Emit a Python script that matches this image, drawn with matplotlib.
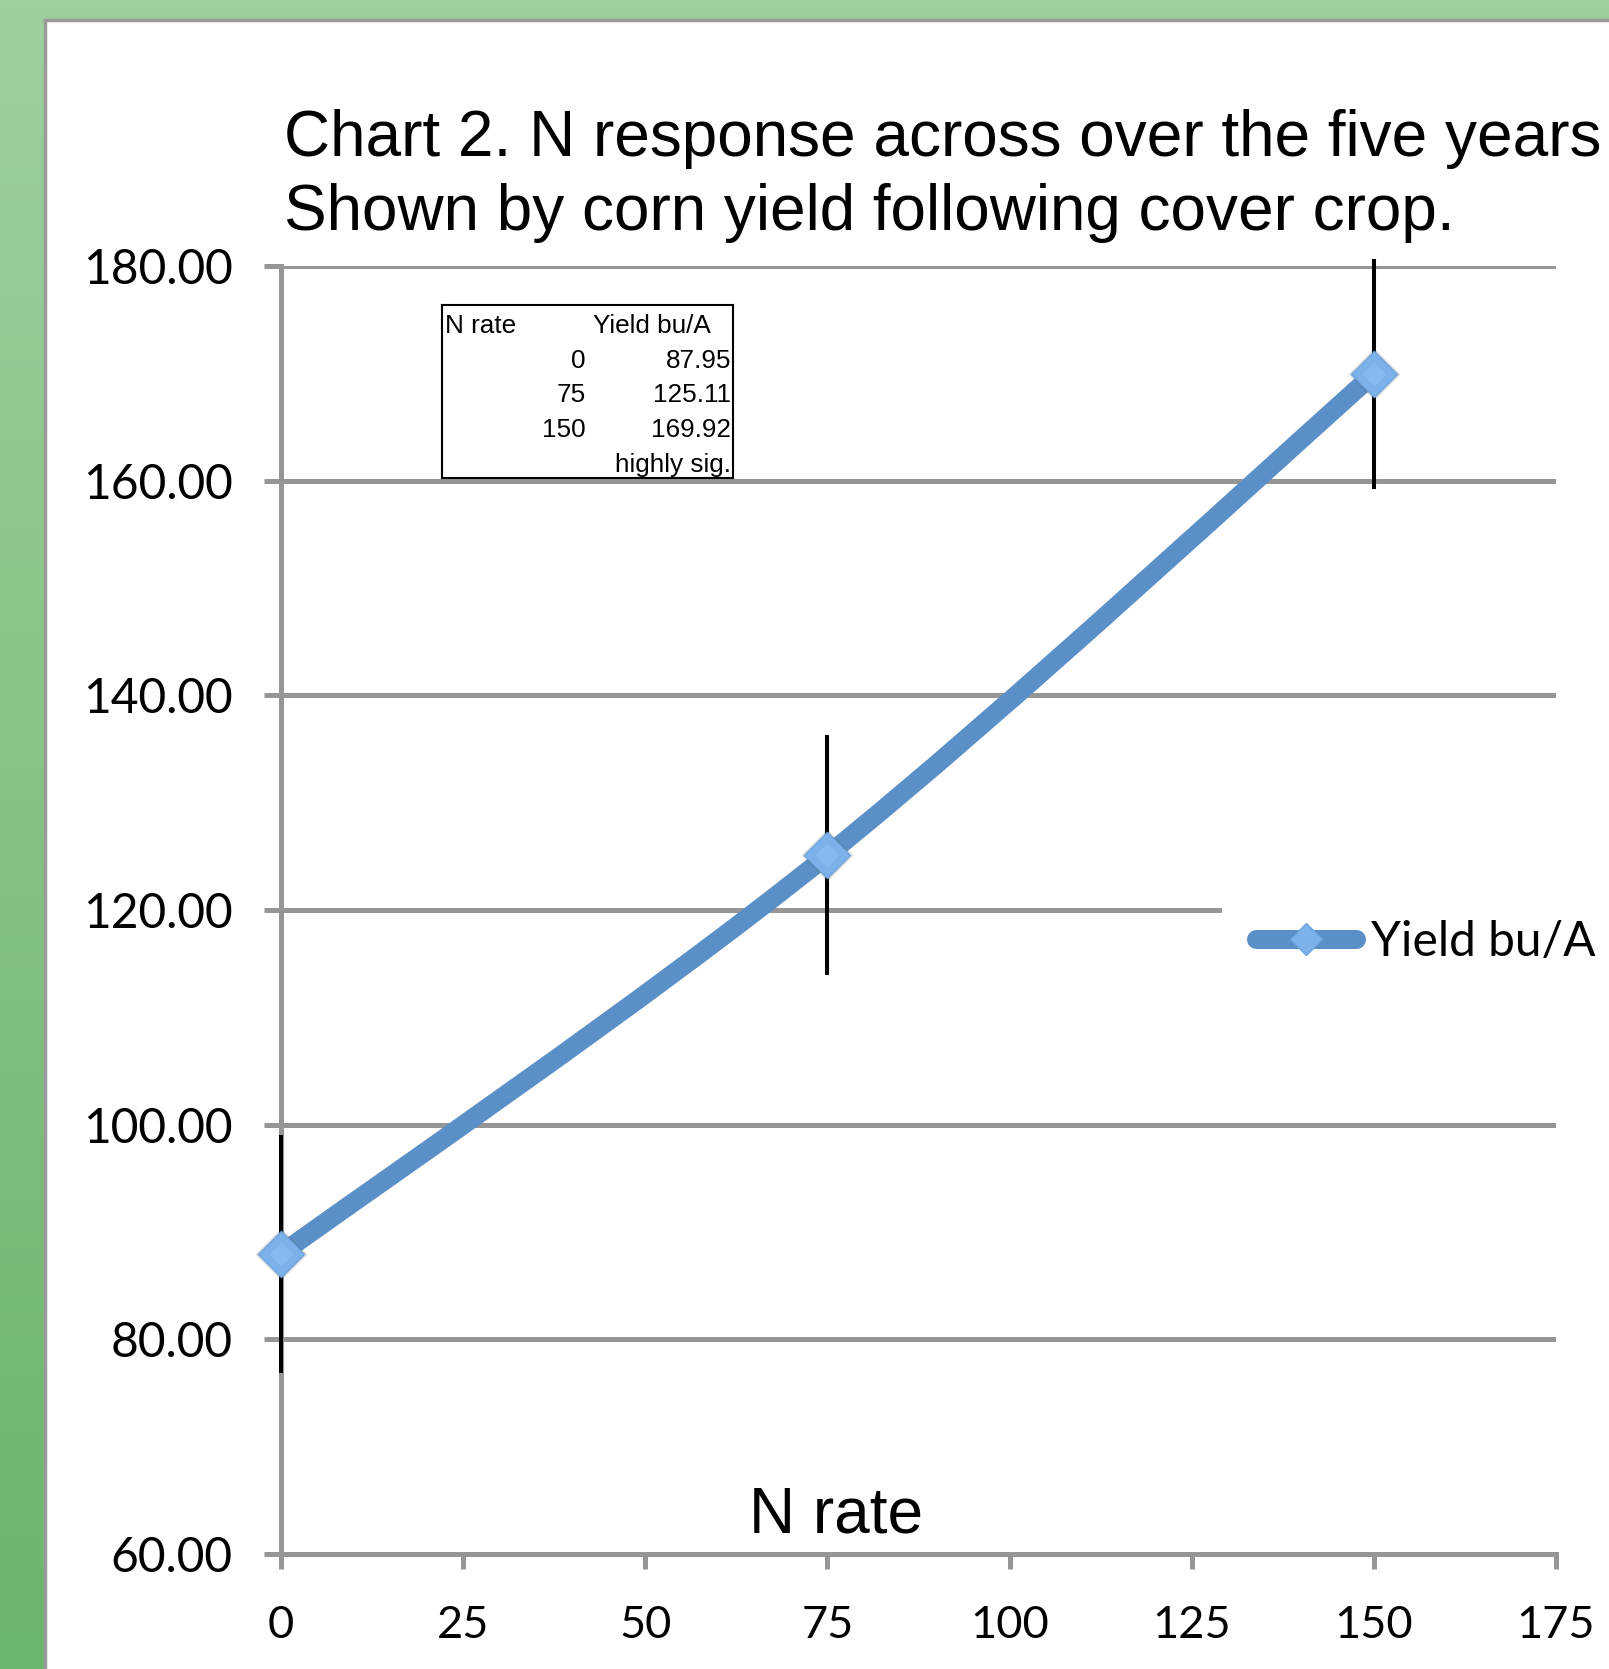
import numpy as np
import matplotlib
matplotlib.use("Agg")
import matplotlib.pyplot as plt
from matplotlib.patches import Rectangle, PathPatch
from matplotlib.path import Path
from matplotlib.lines import Line2D
from matplotlib.colors import LinearSegmentedColormap

# data
n_rate = [0, 75, 150]
yield_bu = [87.95, 125.11, 169.92]
err = [11.1, 11.2, 10.7]
x_ticks = [0, 25, 50, 75, 100, 125, 150, 175]
y_ticks = [60, 80, 100, 120, 140, 160, 180]
title_1 = "Chart 2. N response across over the five years"
title_2 = "Shown by corn yield following cover crop."
series_name = "Yield bu/A"

W, H = 1609, 1669
fig = plt.figure(figsize=(W / 100, H / 100), dpi=100)

# green background with white panel
bg = fig.add_axes([0, 0, 1, 1], zorder=-10)
grad = np.linspace(0, 1, 256).reshape(-1, 1)
cmap = LinearSegmentedColormap.from_list("g", ["#9dd09d", "#6bb46b"])
bg.imshow(grad, extent=[0, 1, 0, 1], aspect="auto", cmap=cmap, origin="upper")
bg.add_patch(Rectangle((45 / W, -0.1), 1.2, 1.1 - 20 / H, transform=bg.transAxes,
                       facecolor="white", edgecolor="#9a9a9a", lw=2.5))
bg.set_xlim(0, 1)
bg.set_ylim(0, 1)
bg.axis("off")

grey = "#969696"
blue = "#5b8fc7"

ax = fig.add_axes([281 / W, 115 / H, 1275 / W, 1288 / H])
ax.patch.set_alpha(0)
ax.set_xlim(0, 175)
ax.set_ylim(60, 180)

# grid + spines
ax.set_axisbelow(True)
ax.yaxis.grid(True, color=grey, lw=3.6)
for s in ["top", "right"]:
    ax.spines[s].set_visible(False)
for s in ["left", "bottom"]:
    ax.spines[s].set_color(grey)
    ax.spines[s].set_linewidth(3.6)
ax.set_xticks(x_ticks)
ax.set_yticks(y_ticks)
ax.set_yticklabels([f"{v:.2f}" for v in y_ticks])
ax.tick_params(axis="y", direction="out", length=12, width=3.6, color=grey, pad=23,
               labelsize=34.5)
ax.tick_params(axis="x", direction="out", length=11, width=3.6, color=grey, pad=26,
               labelsize=32.5)
for lab in ax.get_xticklabels() + ax.get_yticklabels():
    lab.set_fontfamily("Lato")

# error bars (behind the line)
ax.errorbar(n_rate, yield_bu, yerr=err, fmt="none", ecolor="black", elinewidth=2.9,
            capsize=0, zorder=3, clip_on=False)

# smoothed line (catmull-rom -> bezier through the data points)
pts = np.column_stack([n_rate, yield_bu]).astype(float)
verts = [pts[0]]
codes = [Path.MOVETO]
for i in range(len(pts) - 1):
    p0 = pts[max(i - 1, 0)]
    p1 = pts[i]
    p2 = pts[i + 1]
    p3 = pts[min(i + 2, len(pts) - 1)]
    verts += [p1 + (p2 - p0) / 6, p2 - (p3 - p1) / 6, p2]
    codes += [Path.CURVE4] * 3
ax.add_patch(PathPatch(Path(verts, codes), fill=False, edgecolor=blue, lw=13.7,
                       capstyle="round", joinstyle="round", zorder=4, clip_on=False))

# markers with soft shadow
ax.plot(n_rate, yield_bu, ls="none", marker="D", ms=26, mfc="#555555", mec="none",
        alpha=0.2, zorder=5, clip_on=False)
ax.plot(n_rate, yield_bu, ls="none", marker="D", ms=23.5, mfc="#7db1ec", mec="#6ea3e0",
        mew=1, zorder=6, clip_on=False)
ax.plot(n_rate, yield_bu, ls="none", marker="D", ms=12, mfc="#8fbef2", mec="none",
        alpha=0.6, zorder=7, clip_on=False)

# legend
handle = Line2D([], [], color=blue, lw=13.7, solid_capstyle="round", marker="D",
                ms=16, mfc="#7db1ec", mec="#6ea3e0")
leg = ax.legend([handle], [series_name], loc="center left",
                bbox_to_anchor=((1222 - 281) / 1275, (1554 - 942) / 1288),
                borderaxespad=0, borderpad=0.7, handlelength=2.1, handletextpad=0.3,
                numpoints=1, frameon=True, fancybox=False,
                prop={"family": "Lato", "size": 34.5})
leg.get_frame().set_facecolor("white")
leg.get_frame().set_edgecolor("none")
leg.get_frame().set_alpha(1)

# x axis label
ax.text(0.435, 0.0167, "N rate", transform=ax.transAxes, ha="center", va="baseline",
        fontsize=46, family="Liberation Sans")

# title
fig.text(284 / W, 1 - 156 / H, title_1, fontsize=46, family="Liberation Sans",
         va="baseline", ha="left")
fig.text(284 / W, 1 - 230 / H, title_2, fontsize=46, family="Liberation Sans",
         va="baseline", ha="left")

# inset table
tb = fig.add_axes([442 / W, 1 - 478 / H, (733 - 442) / W, (478 - 305) / H])
tb.set_xlim(442, 733)
tb.set_ylim(478, 305)
tb.set_xticks([])
tb.set_yticks([])
for s in tb.spines.values():
    s.set_linewidth(1.5)
    s.set_color("black")
fs = 18.8
tb.text(445, 333, "N rate", fontsize=fs, family="Liberation Sans", va="baseline")
tb.text(711, 333, series_name, fontsize=fs, family="Liberation Sans", va="baseline",
        ha="right")
for k, (n, y) in enumerate(zip(n_rate, yield_bu)):
    base = 368 + 34.5 * k
    tb.text(586, base, f"{n}", fontsize=fs, family="Liberation Sans", va="baseline",
            ha="right")
    tb.text(731, base, f"{y:.2f}", fontsize=fs, family="Liberation Sans",
            va="baseline", ha="right")
tb.text(731, 472, "highly sig.", fontsize=fs, family="Liberation Sans", va="baseline",
        ha="right")

fig.savefig("out.png", dpi=100)
